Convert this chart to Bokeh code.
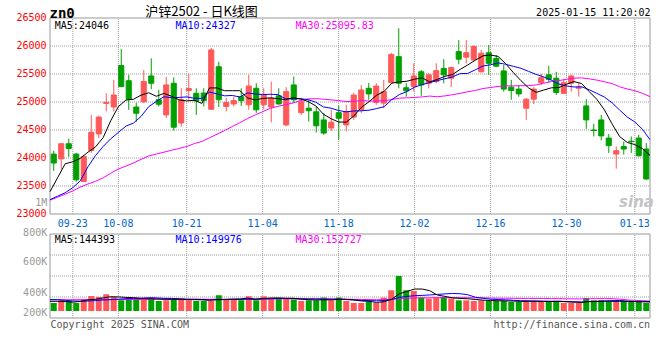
from bokeh.plotting import figure
from bokeh.models import Range1d, Label
from bokeh.embed import file_html
from bokeh.resources import INLINE

# ---------------- data ----------------
dates = ["09-18", "09-19", "09-20", "09-23", "09-24", "09-25", "09-26", "09-27", "09-30",
         "10-08", "10-09", "10-10", "10-11", "10-14", "10-15", "10-16", "10-17", "10-18",
         "10-21", "10-22", "10-23", "10-24", "10-25", "10-28", "10-29", "10-30", "10-31",
         "11-01", "11-04", "11-05", "11-06", "11-07", "11-08", "11-11", "11-12", "11-13",
         "11-14", "11-15", "11-18", "11-19", "11-20", "11-21", "11-22", "11-25", "11-26",
         "11-27", "11-28", "11-29", "12-02", "12-03", "12-04", "12-05", "12-06", "12-09",
         "12-10", "12-11", "12-12", "12-13", "12-16", "12-17", "12-18", "12-19", "12-20",
         "12-23", "12-24", "12-25", "12-26", "12-27", "12-30", "12-31", "01-02", "01-03",
         "01-06", "01-07", "01-08", "01-09", "01-10", "01-13", "01-14", "01-15"]

opens = [24070, 23985, 24255, 24070, 23580, 24135, 24430, 24975, 24910, 25650,
         25380, 24910, 25005, 25465, 25040, 24770, 25335, 24625, 25205, 25155,
         25160, 24870, 25630, 24920, 24965, 25095, 24950, 25245, 24950, 24910,
         25110, 24590, 25305, 24810, 24890, 24825, 24680, 24535, 24810, 24590,
         24730, 24860, 25245, 24990, 24980, 25345, 25810, 25255, 25275, 25540,
         25335, 25365, 25600, 25425, 25900, 25800, 25750, 25540, 25880, 25780,
         25555, 25265, 25230, 24890, 25050, 25345, 25485, 25425, 25155, 25335,
         25245, 24930, 24500, 24680, 24355, 24070, 24205, 24300, 24355, 24160]
highs = [24130, 24260, 24345, 24090, 24060, 24770, 24755, 25155, 25395, 25945,
         25485, 24985, 25570, 25780, 25215, 25450, 25440, 25245, 25500, 25245,
         25245, 25965, 25720, 25075, 25095, 25245, 25485, 25335, 25245, 25365,
         25245, 25265, 25455, 25075, 25040, 24915, 24805, 24860, 24930, 24950,
         25165, 25305, 25340, 25335, 25395, 25880, 26315, 25335, 25690, 25570,
         25515, 25690, 25765, 25630, 26105, 26105, 26010, 25930, 26020, 25840,
         25660, 25395, 25305, 25070, 25265, 25500, 25645, 25540, 25405, 25485,
         25335, 25050, 24610, 24770, 24430, 24205, 24295, 24385, 24415, 24265]
lows = [23770, 23800, 24020, 23580, 23570, 24090, 24355, 24830, 24830, 25265,
        24860, 24645, 24980, 25230, 24920, 24715, 24490, 24560, 25040, 24770,
        24920, 24860, 24910, 24830, 24920, 24930, 24860, 24805, 24870, 24635,
        24950, 24575, 24980, 24770, 24650, 24455, 24415, 24485, 24325, 24475,
        24680, 24805, 25040, 24950, 24890, 25335, 25245, 25095, 25185, 25110,
        25245, 25335, 25335, 25265, 25675, 25690, 25740, 25525, 25485, 25620,
        25185, 25040, 25095, 24680, 24965, 25305, 25345, 25125, 25145, 25185,
        25095, 24520, 24385, 24315, 24090, 23810, 24060, 24090, 24025, 23610]
closes = [23910, 24255, 24170, 23610, 24025, 24460, 24730, 24995, 25125, 25275,
          25050, 24800, 25365, 25335, 24960, 25305, 24550, 25040, 25240, 25020,
          25025, 25930, 25040, 24990, 25025, 25025, 25285, 24860, 25125, 25070,
          24965, 25185, 25040, 25005, 24845, 24575, 24445, 24640, 24710, 24830,
          25125, 25215, 25145, 25285, 25185, 25850, 25335, 25200, 25465, 25305,
          25485, 25560, 25485, 25615, 25765, 25880, 25990, 25870, 25690, 25640,
          25230, 25205, 25145, 25050, 25230, 25435, 25405, 25170, 25345, 25465,
          25265, 24680, 24490, 24395, 24220, 24130, 24160, 24290, 24040, 23625]

ma5 = [23398, 23648, 23897, 23933, 23994, 24104, 24199, 24364, 24667, 24917,
       25035, 25049, 25123, 25165, 25102, 25153, 25103, 25038, 25019, 25031,
       24975, 25251, 25251, 25201, 25202, 25202, 25073, 25037, 25064, 25073,
       25061, 25041, 25077, 25053, 25008, 24930, 24782, 24702, 24643, 24640,
       24750, 24904, 25005, 25120, 25191, 25336, 25360, 25371, 25407, 25431,
       25358, 25403, 25460, 25490, 25582, 25661, 25747, 25824, 25839, 25814,
       25684, 25527, 25382, 25254, 25172, 25213, 25253, 25258, 25317, 25364,
       25330, 25185, 25049, 24859, 24610, 24383, 24279, 24239, 24168, 24046]
ma10 = [23256, 23318, 23380, 23470, 23594, 23844, 24045, 24206, 24343, 24456,
        24570, 24624, 24744, 24916, 25010, 25094, 25076, 25081, 25092, 25067,
        25064, 25177, 25145, 25110, 25117, 25089, 25162, 25144, 25133, 25138,
        25132, 25057, 25057, 25059, 25041, 24996, 24912, 24890, 24848, 24824,
        24840, 24843, 24854, 24882, 24916, 25043, 25132, 25188, 25264, 25311,
        25347, 25382, 25416, 25449, 25507, 25510, 25575, 25642, 25665, 25698,
        25673, 25637, 25603, 25547, 25493, 25449, 25390, 25320, 25286, 25268,
        25272, 25219, 25154, 25088, 24987, 24857, 24732, 24644, 24514, 24327]
ma30 = [23247, 23300, 23354, 23413, 23480, 23536, 23584, 23646, 23728, 23803,
        23856, 23911, 23977, 24036, 24070, 24104, 24138, 24171, 24205, 24257,
        24296, 24361, 24425, 24492, 24562, 24631, 24704, 24767, 24827, 24887,
        24922, 24953, 24982, 25028, 25056, 25059, 25050, 25038, 25024, 25009,
        25012, 25026, 25018, 25017, 25024, 25042, 25069, 25074, 25081, 25091,
        25106, 25094, 25109, 25130, 25154, 25183, 25206, 25240, 25259, 25278,
        25287, 25287, 25291, 25292, 25305, 25334, 25366, 25383, 25405, 25426,
        25430, 25413, 25391, 25361, 25329, 25272, 25232, 25202, 25155, 25096]

volumes = [127000, 170000, 159000, 127000, 186000, 238000, 222000, 265000, 222000, 170000,
           202000, 202000, 202000, 202000, 159000, 170000, 202000, 202000, 170000, 159000,
           159000, 159000, 249000, 186000, 186000, 170000, 233000, 170000, 233000, 213000,
           190000, 197000, 181000, 159000, 170000, 170000, 213000, 170000, 213000, 159000,
           127000, 127000, 143000, 127000, 213000, 329000, 556000, 329000, 317000, 213000,
           197000, 213000, 222000, 197000, 170000, 170000, 159000, 170000, 159000, 159000,
           159000, 143000, 143000, 170000, 159000, 143000, 143000, 159000, 127000, 127000,
           127000, 206000, 170000, 170000, 143000, 143000, 154000, 143000, 143000, 127000]
vma5 = [154000, 154000, 152000, 140000, 153700, 175900, 186300, 207600, 226700, 223500,
        216200, 212100, 199400, 195200, 193000, 186700, 186700, 186700, 180300, 180300,
        178100, 169500, 179000, 182200, 187600, 189800, 204800, 188900, 198400, 203800,
        207900, 200600, 202900, 187900, 179400, 175200, 178400, 176200, 187000, 184800,
        176200, 159000, 153700, 136500, 147300, 187600, 273300, 310500, 348600, 348600,
        322200, 253700, 232400, 208300, 199700, 194300, 183500, 173000, 165400, 163200,
        161000, 157800, 152400, 154600, 154600, 151400, 151400, 154600, 146000, 139700,
        136500, 149200, 151400, 160000, 163200, 166300, 155900, 150500, 145100, 144393]
vma10 = [181000, 181000, 170000, 160000, 155000, 158000, 165000, 175000, 180000, 188600,
         196000, 199200, 203500, 211000, 208300, 201400, 199400, 193000, 187800, 186700,
         182400, 178100, 182900, 181300, 184000, 184000, 187100, 184000, 190300, 195700,
         198900, 202700, 195900, 193200, 191600, 191600, 189500, 189500, 187500, 182100,
         175700, 168700, 164900, 161700, 166000, 181900, 216200, 232100, 242500, 247900,
         254900, 263500, 271400, 278400, 274100, 258300, 218600, 202700, 186800, 181400,
         177600, 170600, 162700, 160000, 158900, 156200, 154600, 153500, 150300, 147100,
         144000, 150300, 153000, 153000, 151400, 151400, 152500, 151000, 152500, 149976]
vma30 = [178000, 178000, 179000, 179000, 180000, 180000, 181000, 181000, 182000, 182000,
         183000, 183000, 184000, 184000, 185000, 185000, 185000, 186000, 186000, 186000,
         187000, 187000, 187000, 188000, 188000, 188000, 189000, 189000, 189000, 190300,
         192400, 193300, 194100, 195100, 194600, 192400, 192100, 188900, 188600, 188100,
         185700, 183200, 181300, 178700, 180500, 185900, 197600, 201900, 206800, 208600,
         209800, 211600, 210800, 211100, 210600, 210600, 208100, 208100, 205600, 203800,
         202700, 201000, 199700, 200000, 199700, 198700, 196500, 196000, 193200, 192200,
         192200, 194800, 195700, 197100, 194800, 188600, 175200, 169000, 163200, 158000]

tick_dates = ["09-23", "10-08", "10-21", "11-04", "11-18", "12-02", "12-16", "12-30", "01-13"]
price_ticks = [23000, 23500, 24000, 24500, 25000, 25500, 26000, 26500]
vol_labels = ["800K", "600K", "400K", "200K"]
vol_top_label = "1M"
title_code = "zn0"
title_text = "沪锌2502 - 日K线图"
stamp = "2025-01-15 11:20:02"
legend_price = [("MA5:24046", "#000000"), ("MA10:24327", "#0000ff"), ("MA30:25095.83", "#ff00ff")]
legend_vol = [("MA5:144393", "#000000"), ("MA10:149976", "#0000ff"), ("MA30:152727", "#ff00ff")]
copyright_text = "Copyright 2025 SINA.COM"
url_text = "http://finance.sina.com.cn"

# ---------------- layout (pixels of the 660x360 canvas) ----------------
W, H = 660, 360
LEFT_PX, RIGHT_PX = 49.5, 649.5
MAIN_TOP_PX, MAIN_BOT_PX = 17.5, 213.5
VOL_TOP_PX, VOL_BOT_PX = 233.5, 317.5
VOL_HI, VOL_LO = 1222000, -111000

N = len(dates)
xs = list(range(N))
slot = (RIGHT_PX - LEFT_PX) / N
XL, XR = -0.5, N - 0.5
x_range = Range1d(XL - LEFT_PX / slot, XR + (W - RIGHT_PX) / slot)

P_LO, P_HI = price_ticks[0], price_ticks[-1]
ppx = (P_HI - P_LO) / (MAIN_BOT_PX - MAIN_TOP_PX)
y_range = Range1d(P_LO - (H - MAIN_BOT_PX) * ppx, P_HI + MAIN_TOP_PX * ppx)
vpx = (VOL_HI - VOL_LO) / (VOL_BOT_PX - VOL_TOP_PX)
vol_range = Range1d(VOL_LO - (H - VOL_BOT_PX) * vpx, VOL_HI + VOL_TOP_PX * vpx)

line_x = [i * N / (N - 1) - 0.5 for i in xs]
tick_pos = [dates.index(d) * N / (N - 1) - 0.5 for d in tick_dates]
vol_grid = [VOL_LO + (VOL_HI - VOL_LO) * k / 4 for k in (1, 2, 3)]

RED = "#ff5858"
GREEN = "#00a000"
cols = [RED if c >= o else GREEN for o, c in zip(opens, closes)]
btop = [max(o, c) for o, c in zip(opens, closes)]
bbot = [min(o, c) for o, c in zip(opens, closes)]

MONO = "DejaVu Sans Mono"
GRIDC = "#9c9c9c"
FRAME = "#999999"

p = figure(width=W, height=H, x_range=x_range, y_range=y_range,
           output_backend="svg", toolbar_location=None,
           x_axis_location=None, y_axis_location=None,
           min_border_left=0, min_border_right=0, min_border_top=0, min_border_bottom=0)
p.extra_y_ranges = {"vol": vol_range}
p.title.visible = False
p.grid.visible = False
p.outline_line_color = None
p.background_fill_color = "white"
p.border_fill_color = "white"


def txt(x, y, s, color, size="10px", font=MONO, align="left", dx=0, dy=0, style="normal", rng="default"):
    p.add_layout(Label(x=x, y=y, x_offset=dx, y_offset=dy, text=s, text_font=font,
                       text_font_size=size, text_font_style=style, text_color=color,
                       text_align=align, text_baseline="middle", y_range_name=rng))


# ----- price panel: grid + frame -----
n_t = len(tick_pos)
p.segment(x0=tick_pos, y0=[P_LO] * n_t, x1=tick_pos, y1=[P_HI] * n_t,
          line_color=GRIDC, line_width=1, line_dash="1 1")
inner = price_ticks[1:-1]
p.segment(x0=[XL] * len(inner), y0=inner, x1=[XR] * len(inner), y1=inner,
          line_color=GRIDC, line_width=1, line_dash="1 1")
p.quad(left=[XL], right=[XR], bottom=[P_LO], top=[P_HI], fill_color=None, line_color=FRAME, line_width=1)

# ----- candles + moving averages -----
p.segment(x0=xs, y0=lows, x1=xs, y1=highs, line_color=cols, line_width=1)
p.vbar(x=xs, width=0.68, top=btop, bottom=bbot, fill_color=cols, line_color=cols, line_width=1)
p.line(line_x, ma30, line_color="#ff00ff", line_width=1)
p.line(line_x, ma10, line_color="#0000ff", line_width=1)
p.line(line_x, ma5, line_color="#000000", line_width=1)

# ----- volume panel: grid + frame -----
p.segment(x0=tick_pos, y0=[VOL_LO] * n_t, x1=tick_pos, y1=[VOL_HI] * n_t,
          line_color=GRIDC, line_width=1, line_dash="1 1", y_range_name="vol")
p.segment(x0=[XL] * 3, y0=vol_grid, x1=[XR] * 3, y1=vol_grid,
          line_color=GRIDC, line_width=1, line_dash="1 1", y_range_name="vol")
p.quad(left=[XL], right=[XR], bottom=[VOL_LO], top=[VOL_HI], fill_color=None,
       line_color=FRAME, line_width=1, y_range_name="vol")

p.vbar(x=xs, width=0.8, top=volumes, bottom=0, fill_color=cols, line_color=None, y_range_name="vol")
p.line(line_x, vma30, line_color="#ff00ff", line_width=1, y_range_name="vol")
p.line(line_x, vma10, line_color="#0000ff", line_width=1, y_range_name="vol")
p.line(line_x, vma5, line_color="#000000", line_width=1, y_range_name="vol")

# ----- texts -----
for t in price_ticks:
    txt(XL, t, str(t), "#ff0000", align="right", dx=-3.5, dy=1)
for t, d in zip(tick_pos, tick_dates):
    txt(t, P_LO, d, "#0066cc", align="center", dy=-8.5)
txt(XL, P_LO, vol_top_label, "#999999", align="right", dx=-2.8, dy=11.8)
for s, dy in zip(vol_labels, [2, -27, -58, -78]):
    txt(XL, VOL_HI, s, "#999999", align="right", dx=-2.8, dy=dy, rng="vol")

txt(XL, P_HI, title_code, "#000000", size="14px", align="left", dx=-0.5, dy=5.5, style="bold")
txt(XL, P_HI, title_text, "#000000", size="13px", font="Noto Sans CJK SC", align="center", dx=151.5, dy=8)
txt(XR, P_HI, stamp, "#000000", align="right", dx=0.5, dy=5.5)

legend_dx = [4.8, 125.5, 245.5]
for (s, c), dx in zip(legend_price, legend_dx):
    txt(XL, P_HI, s, c, dx=dx, dy=-7.2)
for (s, c), dx in zip(legend_vol, legend_dx):
    txt(XL, VOL_HI, s, c, dx=dx, dy=-5.8, rng="vol")

txt(XL, VOL_LO, copyright_text, "#555555", dx=0.5, dy=-6.8, rng="vol")
txt(XR, VOL_LO, url_text, "#555555", align="right", dx=0, dy=-6.8, rng="vol")
txt(XR, P_LO, "sina", "#c4c4c4", size="15px", font="DejaVu Sans", align="center",
    dx=-13.5, dy=12.5, style="bold italic")

open("out.html", "w").write(file_html(p, INLINE))
